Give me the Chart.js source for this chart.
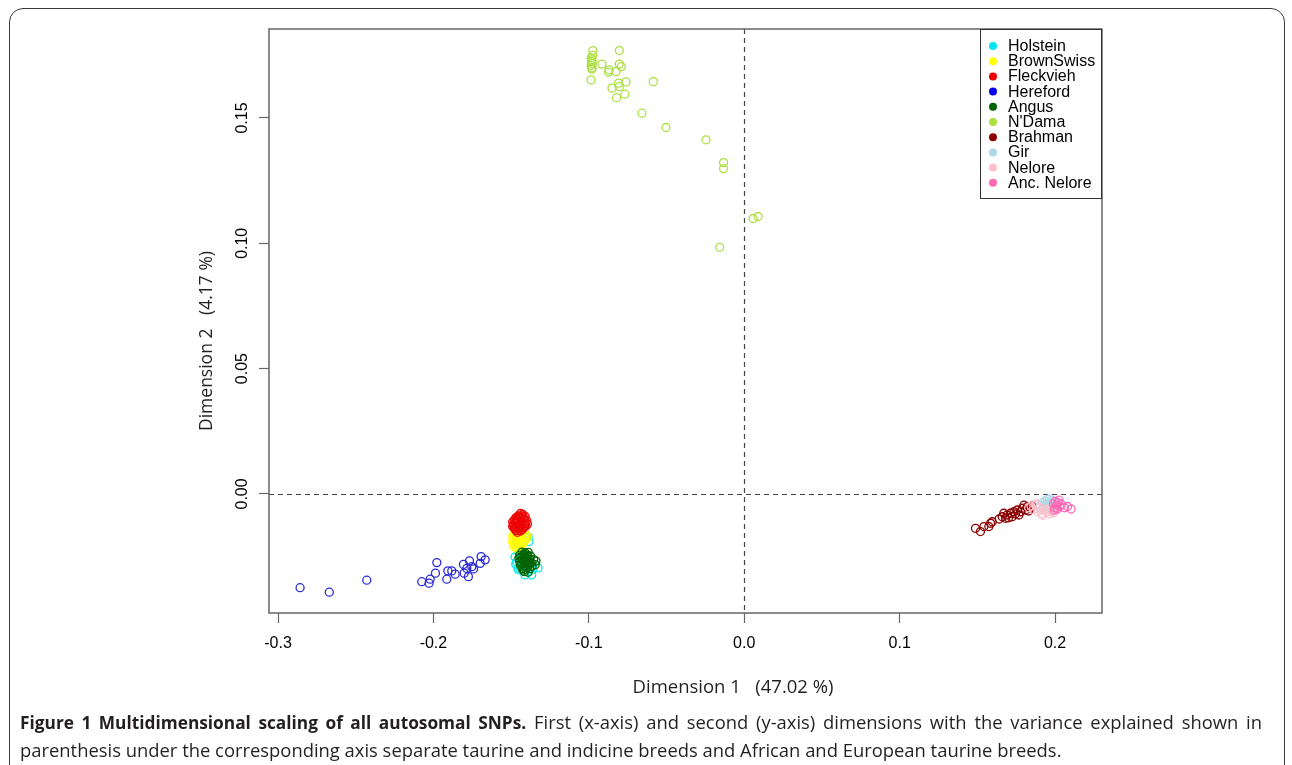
<!DOCTYPE html>
<html><head><meta charset="utf-8">
<script src="https://cdn.jsdelivr.net/npm/chart.js@4.4.0/dist/chart.umd.min.js"></script>
<style>
html,body{margin:0;padding:0;background:#fff;width:1292px;height:765px;overflow:hidden;}
#frame{position:absolute;left:9px;top:8px;width:1276px;height:800px;border:1.5px solid #3a3a3a;border-radius:14px;box-sizing:border-box;}
#cv{position:absolute;left:0;top:0;}
#caption{position:absolute;left:20px;top:708px;width:1242px;font-family:'Open Sans',sans-serif;font-size:18.4px;line-height:27px;color:#231f20;white-space:nowrap;}
#caption b{font-size:17.3px;}
#caption .l1{text-align:justify;text-align-last:justify;white-space:normal;}
</style></head>
<body>
<div id="frame"></div>
<canvas id="cv" width="1292" height="765"></canvas>
<div id="caption"><div class="l1"><b>Figure 1 Multidimensional scaling of all autosomal SNPs.</b> First (x-axis) and second (y-axis) dimensions with the variance explained shown in</div><div>parenthesis under the corresponding axis separate taurine and indicine breeds and African and European taurine breeds.</div></div>
<script>
// ---- data ----
const categories = ['Holstein','BrownSwiss','Fleckvieh','Hereford','Angus',"N'Dama",'Brahman','Gir','Nelore','Anc. Nelore'];
const xTickValues = [-0.3,-0.2,-0.1,0.0,0.1,0.2];
const xTickLabels = ['-0.3','-0.2','-0.1','0.0','0.1','0.2'];
const yTickValues = [0.0,0.05,0.10,0.15];
const yTickLabels = ['0.00','0.05','0.10','0.15'];
const xTitle = 'Dimension 1   (47.02 %)';
const yTitle = 'Dimension 2   (4.17 %)';

const holstein = [[-0.1391,-0.0172],[-0.1475,-0.0251],[-0.1464,-0.0270],[-0.1443,-0.0303],[-0.1411,-0.0323],[-0.1368,-0.0323],[-0.1327,-0.0295],[-0.1400,-0.0176],[-0.1440,-0.0265],[-0.1420,-0.0290],[-0.1400,-0.0280],[-0.1430,-0.0245],[-0.1450,-0.0235],[-0.1385,-0.0190],[-0.1470,-0.0280],[-0.1455,-0.0300],[-0.1395,-0.0310],[-0.1360,-0.0300]];
const brownSwiss = [[-0.1480,-0.0160],[-0.1455,-0.0158],[-0.1430,-0.0160],[-0.1405,-0.0162],[-0.1490,-0.0170],[-0.1465,-0.0168],[-0.1440,-0.0170],[-0.1415,-0.0172],[-0.1395,-0.0175],[-0.1485,-0.0180],[-0.1460,-0.0182],[-0.1435,-0.0180],[-0.1410,-0.0184],[-0.1490,-0.0192],[-0.1470,-0.0190],[-0.1445,-0.0194],[-0.1420,-0.0192],[-0.1480,-0.0202],[-0.1455,-0.0204],[-0.1430,-0.0202],[-0.1470,-0.0212],[-0.1445,-0.0214],[-0.1460,-0.0220],[-0.1438,-0.0222],[-0.1485,-0.0210],[-0.1468,-0.0176],[-0.1448,-0.0186],[-0.1425,-0.0186],[-0.1478,-0.0196],[-0.1458,-0.0198],[-0.1432,-0.0196],[-0.1452,-0.0208],[-0.1400,-0.0168]];
const fleckvieh = [[-0.1440,-0.0078],[-0.1425,-0.0082],[-0.1455,-0.0088],[-0.1410,-0.0090],[-0.1470,-0.0095],[-0.1440,-0.0098],[-0.1420,-0.0100],[-0.1480,-0.0105],[-0.1455,-0.0108],[-0.1400,-0.0106],[-0.1430,-0.0112],[-0.1475,-0.0116],[-0.1450,-0.0120],[-0.1415,-0.0118],[-0.1485,-0.0124],[-0.1465,-0.0128],[-0.1435,-0.0126],[-0.1405,-0.0128],[-0.1480,-0.0136],[-0.1450,-0.0138],[-0.1420,-0.0135],[-0.1470,-0.0146],[-0.1440,-0.0148],[-0.1460,-0.0153],[-0.1395,-0.0120],[-0.1490,-0.0112],[-0.1445,-0.0092],[-0.1462,-0.0112],[-0.1428,-0.0142],[-0.1432,-0.0088],[-0.1462,-0.0100],[-0.1412,-0.0110],[-0.1442,-0.0118],[-0.1472,-0.0136],[-0.1435,-0.0136],[-0.1455,-0.0146],[-0.1412,-0.0128],[-0.1490,-0.0130]];
const hereford = [[-0.2858,-0.0374],[-0.2670,-0.0392],[-0.2429,-0.0344],[-0.2075,-0.0350],[-0.2028,-0.0356],[-0.2021,-0.0340],[-0.1987,-0.0316],[-0.1978,-0.0274],[-0.1914,-0.0340],[-0.1907,-0.0307],[-0.1882,-0.0307],[-0.1860,-0.0320],[-0.1807,-0.0281],[-0.1802,-0.0316],[-0.1775,-0.0330],[-0.1768,-0.0267],[-0.1753,-0.0290],[-0.1742,-0.0299],[-0.1699,-0.0277],[-0.1693,-0.0250],[-0.1667,-0.0263],[-0.1785,-0.0297]];
const angus = [[-0.1430,-0.0232],[-0.1410,-0.0235],[-0.1390,-0.0233],[-0.1445,-0.0244],[-0.1420,-0.0246],[-0.1395,-0.0244],[-0.1375,-0.0248],[-0.1450,-0.0256],[-0.1428,-0.0258],[-0.1405,-0.0256],[-0.1380,-0.0260],[-0.1355,-0.0262],[-0.1445,-0.0270],[-0.1420,-0.0272],[-0.1395,-0.0270],[-0.1370,-0.0274],[-0.1440,-0.0284],[-0.1415,-0.0286],[-0.1390,-0.0284],[-0.1365,-0.0288],[-0.1430,-0.0298],[-0.1405,-0.0300],[-0.1380,-0.0298],[-0.1415,-0.0310],[-0.1390,-0.0312],[-0.1340,-0.0268],[-0.1345,-0.0282],[-0.1418,-0.0240],[-0.1438,-0.0252],[-0.1392,-0.0252],[-0.1410,-0.0266],[-0.1432,-0.0278],[-0.1405,-0.0278],[-0.1378,-0.0280],[-0.1420,-0.0304],[-0.1398,-0.0292]];
const ndama = [[-0.0980,0.1732],[-0.0974,0.1769],[-0.0980,0.1695],[-0.0986,0.1652],[-0.0916,0.1715],[-0.0804,0.1769],[-0.0869,0.1692],[-0.0873,0.1683],[-0.0825,0.1685],[-0.0804,0.1715],[-0.0791,0.1705],[-0.0809,0.1639],[-0.0804,0.1625],[-0.0761,0.1644],[-0.0851,0.1619],[-0.0822,0.1581],[-0.0768,0.1595],[-0.0585,0.1645],[-0.0658,0.1519],[-0.0504,0.1462],[-0.0246,0.1413],[-0.0133,0.1322],[-0.0133,0.1298],[0.0057,0.1099],[0.0089,0.1107],[-0.0158,0.0984],[-0.0985,0.1740],[-0.0982,0.1725],[-0.0978,0.1718],[-0.0985,0.1710],[-0.0975,0.1750],[-0.0980,0.1700]];
const brahman = [[0.1488,-0.0137],[0.1520,-0.0150],[0.1542,-0.0130],[0.1574,-0.0130],[0.1585,-0.0117],[0.1596,-0.0111],[0.1660,-0.0091],[0.1670,-0.0077],[0.1692,-0.0084],[0.1713,-0.0077],[0.1735,-0.0071],[0.1757,-0.0064],[0.1778,-0.0071],[0.1789,-0.0057],[0.1810,-0.0064],[0.1821,-0.0051],[0.1842,-0.0057],[0.1681,-0.0097],[0.1724,-0.0091],[0.1767,-0.0084],[0.1800,-0.0045],[0.1830,-0.0068],[0.1850,-0.0048],[0.1745,-0.0080],[0.1700,-0.0095],[0.1640,-0.0100]];
const gir = [[0.1905,-0.0045],[0.1920,-0.0035],[0.1935,-0.0028],[0.1950,-0.0022],[0.1965,-0.0020],[0.1980,-0.0025],[0.1995,-0.0030],[0.2010,-0.0035],[0.1925,-0.0050],[0.1945,-0.0042],[0.1960,-0.0035],[0.1975,-0.0040],[0.1990,-0.0045],[0.1940,-0.0058],[0.1958,-0.0052],[0.1972,-0.0060],[0.1915,-0.0062]];
const nelore = [[0.1830,-0.0055],[0.1845,-0.0048],[0.1860,-0.0062],[0.1875,-0.0045],[0.1890,-0.0070],[0.1900,-0.0055],[0.1915,-0.0078],[0.1930,-0.0065],[0.1945,-0.0072],[0.1960,-0.0080],[0.1975,-0.0068],[0.1990,-0.0075],[0.2005,-0.0062],[0.1880,-0.0040],[0.1920,-0.0085],[0.1950,-0.0060]];
const ancNelore = [[0.1990,-0.0040],[0.2000,-0.0030],[0.2010,-0.0045],[0.2020,-0.0035],[0.2030,-0.0050],[0.2015,-0.0060],[0.2040,-0.0042],[0.2000,-0.0055],[0.2025,-0.0025],[0.2060,-0.0055],[0.2080,-0.0050],[0.2103,-0.0060],[0.1995,-0.0065]];

const seriesData = [holstein, brownSwiss, fleckvieh, hereford, angus, ndama, brahman, gir, nelore, ancNelore];
const colors = ['#00e5ee','#ffff00','#ee0000','#2a2ad8','#006400','#acdf40','#8b0000','#add8e6','#ffc0cb','#ff69b4'];
const legendColors = ['#00e5ee','#ffff00','#ee0000','#0000ee','#006400','#acdf40','#8b0000','#add8e6','#ffc0cb','#ff69b4'];

const datasets = categories.map((name,i)=>({
  label: name,
  data: seriesData[i].map(p=>({x:p[0],y:p[1]})),
  borderColor: colors[i],
  backgroundColor: 'rgba(0,0,0,0)',
  pointRadius: 4,
  pointBorderWidth: 1.3,
  pointStyle: 'circle',
  order: categories.length - i
}));

const decor = {
  id:'decor',
  beforeDatasetsDraw(chart){
    const {ctx, chartArea:a, scales:{x,y}} = chart;
    ctx.save();
    ctx.strokeStyle='#444'; ctx.lineWidth=1.2; ctx.setLineDash([5,4]);
    const x0 = Math.round(x.getPixelForValue(0))+0.5, y0 = Math.round(y.getPixelForValue(0))+0.5;
    ctx.beginPath(); ctx.moveTo(x0,a.top); ctx.lineTo(x0,a.bottom); ctx.stroke();
    ctx.beginPath(); ctx.moveTo(a.left,y0); ctx.lineTo(a.right,y0); ctx.stroke();
    ctx.restore();
  },
  afterDraw(chart){
    const {ctx, chartArea:a, scales:{x,y}} = chart;
    ctx.save();
    ctx.strokeStyle='#666'; ctx.lineWidth=1.5; ctx.setLineDash([]);
    ctx.strokeRect(a.left, a.top, a.right-a.left, a.bottom-a.top);
    ctx.fillStyle='#000'; ctx.font='16px "Liberation Sans", Arial, sans-serif';
    ctx.textAlign='center'; ctx.textBaseline='middle';
    yTickValues.forEach((v,i)=>{
      const py = y.getPixelForValue(v);
      ctx.save(); ctx.translate(243, py); ctx.rotate(-Math.PI/2); ctx.fillText(yTickLabels[i],0,0); ctx.restore();
    });
    ctx.fillStyle='#231f20'; ctx.font='18.5px "Open Sans", sans-serif';
    ctx.fillText(xTitle, 733, 688);
    ctx.save(); ctx.translate(207, 341); ctx.rotate(-Math.PI/2); ctx.font='17.5px "Open Sans", sans-serif'; ctx.fillText(yTitle,0,0); ctx.restore();
    const lx = 980, ly = a.top, lw = a.right - lx, lh = 170;
    ctx.fillStyle='#fff'; ctx.fillRect(lx,ly,lw,lh);
    ctx.strokeStyle='#333'; ctx.lineWidth=1; ctx.strokeRect(lx+0.5,ly+0.5,lw-1,lh-1);
    ctx.font='16px "Liberation Sans", Arial, sans-serif'; ctx.textAlign='left';
    categories.forEach((name,i)=>{
      const cy = ly + 17 + i*15.2;
      ctx.fillStyle=legendColors[i];
      ctx.beginPath(); ctx.arc(993, cy, 4, 0, Math.PI*2); ctx.fill();
      ctx.fillStyle='#000'; ctx.fillText(name, 1008, cy+0.5);
    });
    ctx.restore();
  }
};

new Chart(document.getElementById('cv'), {
  type:'scatter',
  data:{datasets},
  options:{
    responsive:false, animation:false, devicePixelRatio:1,
    layout:{padding:{left:0, top:29, right:190, bottom:52}},
    plugins:{legend:{display:false}, tooltip:{enabled:false}},
    scales:{
      x:{type:'linear', min:-0.3058, max:0.2302,
        afterBuildTicks:s=>{s.ticks = xTickValues.map(v=>({value:v}));},
        ticks:{callback:(v,i)=>xTickLabels[i], font:{family:'"Liberation Sans", Arial, sans-serif', size:16}, color:'#000', padding:11, maxRotation:0, autoSkip:false},
        grid:{drawOnChartArea:false, drawTicks:true, tickLength:10, tickColor:'#666', tickWidth:1.2},
        border:{display:false},
        afterFit:s=>{s.height=100;}
      },
      y:{type:'linear', min:-0.0475, max:0.1855,
        afterBuildTicks:s=>{s.ticks = yTickValues.map(v=>({value:v}));},
        ticks:{display:false},
        grid:{drawOnChartArea:false, drawTicks:true, tickLength:10, tickColor:'#666', tickWidth:1.2},
        border:{display:false},
        afterFit:s=>{s.width=269;}
      }
    }
  },
  plugins:[decor]
});
</script>
</body></html>
